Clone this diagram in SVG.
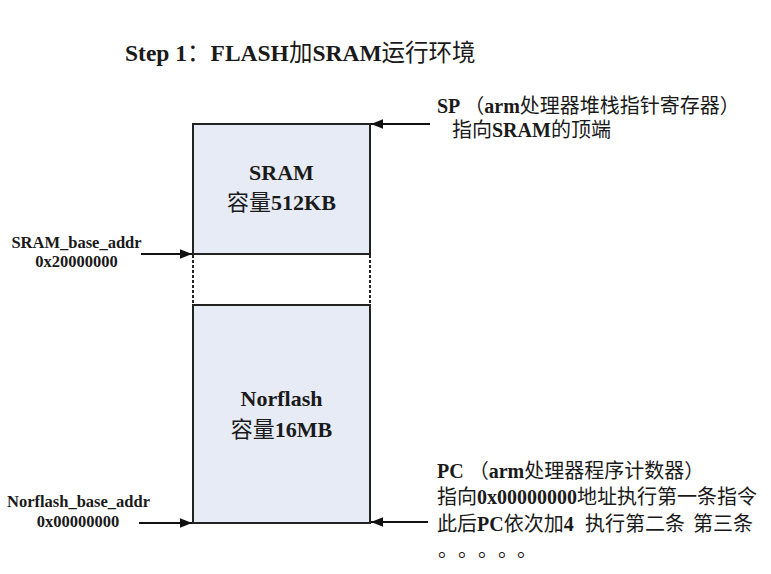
<svg xmlns="http://www.w3.org/2000/svg" width="771" height="574" viewBox="0 0 771 574">
<style>
.t{font-family:"Liberation Serif","Noto Sans CJK SC",serif;font-weight:bold;fill:#1a1a1a}
.c{font-family:"Noto Sans CJK SC",sans-serif;font-weight:normal}
.box{fill:#e6ebf5;stroke:#222;stroke-width:2}
.dash{stroke:#222;stroke-width:2;stroke-dasharray:3 2;fill:none}
.arr{stroke:#111;stroke-width:2;fill:none;marker-end:url(#ah)}
</style>
<defs>
<marker id="ah" viewBox="0 0 10 10" refX="10" refY="5" markerWidth="6" markerHeight="6" markerUnits="strokeWidth" orient="auto">
<path d="M0,1 L10,5 L0,9 z" fill="#111"/>
</marker>
</defs>
<rect width="771" height="574" fill="#fff"/>
<g id="title">
<text class="t" x="125" y="61" font-size="23.5">Step 1<tspan class="c">：</tspan>FLASH<tspan class="c">加</tspan>SRAM<tspan class="c">运行环境</tspan></text>
</g>
<g id="sram">
<rect class="box" x="193" y="124" width="177" height="130"/>
<text class="t" x="281.5" y="180" font-size="22" text-anchor="middle">SRAM</text>
<text class="t" x="281.5" y="210" font-size="22" text-anchor="middle"><tspan class="c">容量</tspan>512KB</text>
</g>
<g id="gap">
<line class="dash" x1="193" y1="255" x2="193" y2="305"/>
<line class="dash" x1="370" y1="255" x2="370" y2="305"/>
</g>
<g id="norflash">
<rect class="box" x="193" y="305" width="177" height="218"/>
<text class="t" x="281.5" y="406" font-size="22" text-anchor="middle">Norflash</text>
<text class="t" x="281.5" y="437" font-size="22" text-anchor="middle"><tspan class="c">容量</tspan>16MB</text>
</g>
<g id="sram-base-label">
<text class="t" x="76.5" y="248" font-size="16.5" text-anchor="middle">SRAM_base_addr</text>
<text class="t" x="76.5" y="267" font-size="16.5" text-anchor="middle">0x20000000</text>
</g>
<g id="norflash-base-label">
<text class="t" x="78.5" y="507" font-size="16.5" text-anchor="middle">Norflash_base_addr</text>
<text class="t" x="78" y="527" font-size="16.5" text-anchor="middle">0x00000000</text>
</g>
<g id="sp-label">
<text class="t" x="437" y="113" font-size="20">SP  <tspan class="c">（</tspan>arm<tspan class="c">处理器堆栈指针寄存器）</tspan></text>
<text class="t" x="452" y="137" font-size="20"><tspan class="c">指向</tspan>SRAM<tspan class="c">的顶端</tspan></text>
</g>
<g id="pc-label">
<text class="t" x="437" y="478" font-size="20">PC <tspan class="c">（</tspan>arm<tspan class="c">处理器程序计数器）</tspan></text>
<text class="t" x="437" y="504" font-size="20"><tspan class="c">指向</tspan>0x00000000<tspan class="c">地址执行第一条指令</tspan></text>
<text class="t" x="437" y="531" font-size="20"><tspan class="c">此后</tspan>PC<tspan class="c">依次加</tspan>4<tspan class="c" x="585">执行第二条</tspan><tspan class="c" x="693">第三条</tspan></text>
<text class="t c" x="438 458 478 498 517" y="557" font-size="20">。。。。。</text>
</g>
<g id="connectors">
<line class="arr" x1="141" y1="254" x2="192" y2="254"/>
<line class="arr" x1="139" y1="523" x2="192" y2="523"/>
<line class="arr" x1="430" y1="124" x2="371" y2="124"/>
<line class="arr" x1="428" y1="522" x2="371" y2="522"/>
</g>
</svg>
